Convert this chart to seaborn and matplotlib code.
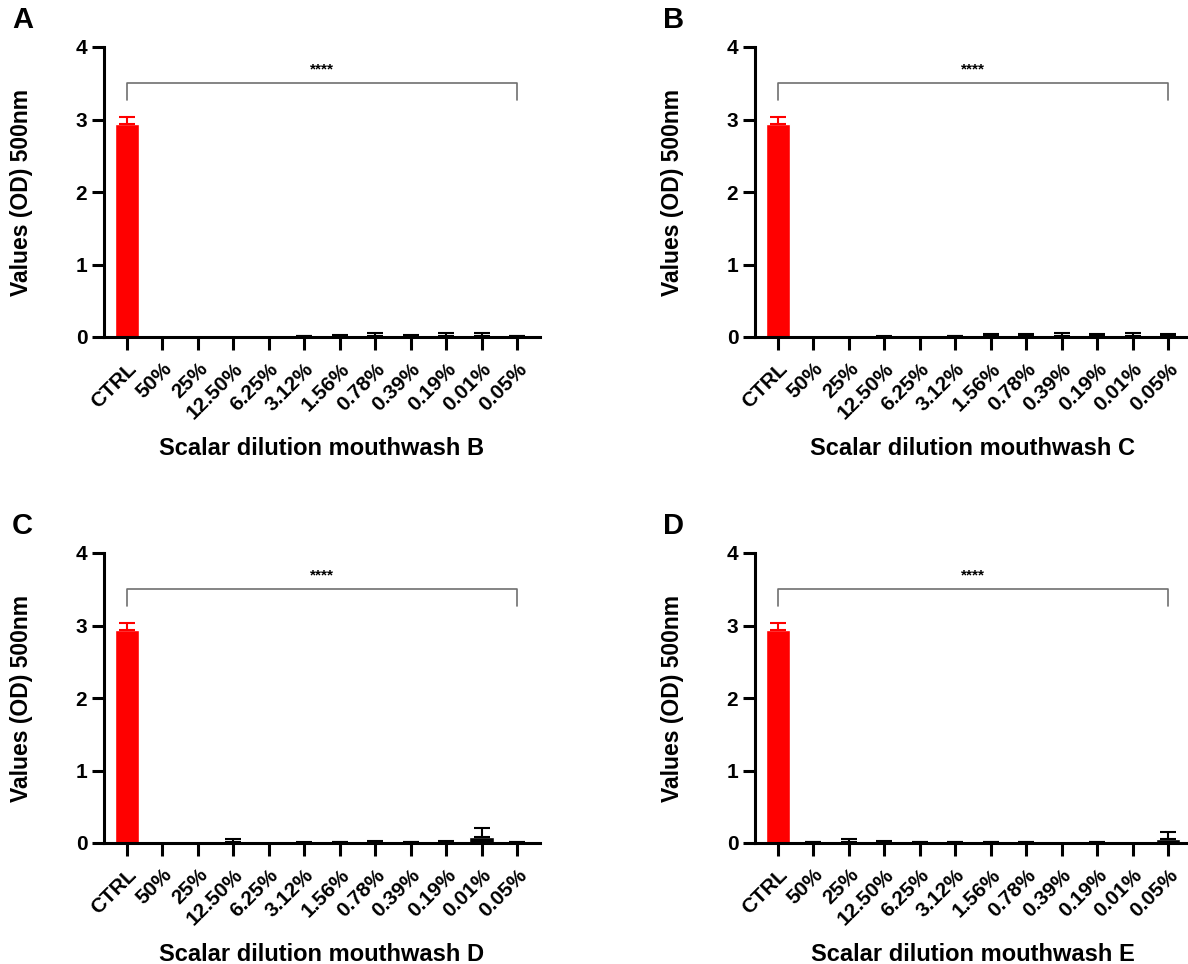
import numpy as np
import pandas as pd
import matplotlib
matplotlib.use("Agg")
import matplotlib.pyplot as plt
import seaborn as sns

sns.set_theme(style="white")
plt.rcParams['font.family'] = ['Liberation Sans', 'DejaVu Sans']
plt.rcParams['font.weight'] = 'bold'
plt.rcParams['text.color'] = 'black'
plt.rcParams['axes.labelcolor'] = 'black'
plt.rcParams['xtick.color'] = 'black'
plt.rcParams['ytick.color'] = 'black'

categories = ["CTRL", "50%", "25%", "12.50%", "6.25%", "3.12%", "1.56%",
              "0.78%", "0.39%", "0.19%", "0.01%", "0.05%"]

panel_letters = ["A", "B", "C", "D"]
xlabels = ["Scalar dilution mouthwash B", "Scalar dilution mouthwash C",
           "Scalar dilution mouthwash D", "Scalar dilution mouthwash E"]

means_B = [2.94, 0.0, 0.004, 0.003, 0.003, 0.008, 0.015, 0.015, 0.015, 0.015, 0.02, 0.01]
errs_B = [0.09, 0.0, 0.0, 0.0, 0.0, 0.005, 0.015, 0.04, 0.015, 0.04, 0.04, 0.01]

means_C = [2.94, 0.01, 0.002, 0.005, 0.003, 0.01, 0.02, 0.02, 0.02, 0.02, 0.02, 0.025]
errs_C = [0.09, 0.0, 0.0, 0.003, 0.0, 0.005, 0.02, 0.015, 0.03, 0.02, 0.03, 0.015]

means_D = [2.94, 0.003, 0.003, 0.01, 0.005, 0.005, 0.008, 0.012, 0.01, 0.015, 0.08, 0.01]
errs_D = [0.09, 0.0, 0.0, 0.04, 0.0, 0.005, 0.005, 0.01, 0.005, 0.01, 0.13, 0.01]

means_E = [2.94, 0.01, 0.01, 0.015, 0.008, 0.01, 0.008, 0.008, 0.003, 0.008, 0.003, 0.06]
errs_E = [0.09, 0.005, 0.045, 0.015, 0.005, 0.005, 0.005, 0.005, 0.0, 0.005, 0.0, 0.09]

all_means = [means_B, means_C, means_D, means_E]
all_errs = [errs_B, errs_C, errs_D, errs_E]
red_counts = [1, 2, 1, 1]

fig = plt.figure(figsize=(11.88, 9.64), dpi=100)
W, H = 1188, 964
ax_w = 436
ax_h = 290
positions = [(104, 47), (755, 47), (104, 553), (755, 553)]

for i in range(4):
    x0, ytop = positions[i]
    ax = fig.add_axes([x0 / W, 1 - (ytop + ax_h) / H, ax_w / W, ax_h / H])
    df = pd.DataFrame({"cat": categories, "val": all_means[i]})
    pal = ["#ff0000"] * red_counts[i] + ["#000000"] * (len(categories) - red_counts[i])
    sns.barplot(data=df, x="cat", y="val", hue="cat", palette=pal, legend=False,
                width=0.68, ax=ax, saturation=1, errorbar=None)
    for j, (m, e) in enumerate(zip(all_means[i], all_errs[i])):
        if e > 0:
            ax.errorbar(j, m, yerr=[[0], [e]], fmt="none", ecolor=pal[j],
                        elinewidth=1.5, capsize=6, capthick=1.5)
    ax.set_xlim(-0.65, 11.65)
    ax.set_ylim(0, 4)
    ax.set_yticks([0, 1, 2, 3, 4])
    ax.set_yticklabels(["0", "1", "2", "3", "4"], fontsize=15, fontweight="bold")
    ax.set_xticks(range(len(categories)))
    ax.set_xticklabels(categories, rotation=45, ha="right", rotation_mode="anchor",
                       fontsize=15, fontweight="bold")
    for s in ["top", "right"]:
        ax.spines[s].set_visible(False)
    for s in ["left", "bottom"]:
        ax.spines[s].set_linewidth(2.2)
        ax.spines[s].set_color("black")
    ax.tick_params(axis="x", direction="out", length=9, width=2.2, color="black", pad=7)
    ax.tick_params(axis="y", direction="out", length=9, width=2.2, color="black", pad=3)
    ax.tick_params(bottom=True, left=True)
    ax.set_ylabel("Values (OD) 500nm", fontsize=16.5, fontweight="bold")
    ax.yaxis.set_label_coords(-0.163, 0.5)
    ax.set_xlabel(xlabels[i], fontsize=17, fontweight="bold", labelpad=10)
    # significance bracket
    ax.plot([0, 0, 11, 11], [3.27, 3.5, 3.5, 3.27], color="#707070", lw=1.2, clip_on=False)
    ax.text(5.5, 3.6, "****", ha="center", va="bottom", fontsize=11, fontweight="bold")
    fig.text((x0 - 92) / W, 1 - (ytop - 27) / H, panel_letters[i], fontsize=21,
             fontweight="bold", ha="left", va="center")

fig.savefig("out.png", dpi=100)
